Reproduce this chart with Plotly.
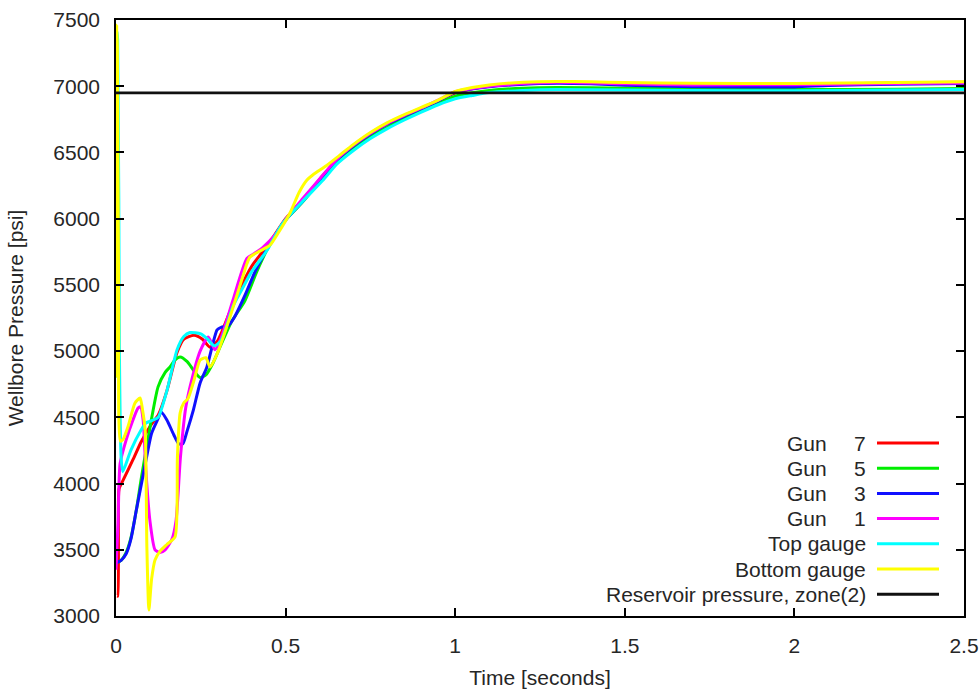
import plotly.graph_objects as go

# ---------------- data ----------------
t_gun7 = [0.003, 0.005, 0.007, 0.009, 0.02, 0.05, 0.074, 0.103, 0.125, 0.15, 0.18, 0.2, 0.23, 0.255, 0.277,
          0.3, 0.33, 0.36, 0.4, 0.45, 0.5, 0.55, 0.6, 0.65, 0.7, 0.75, 0.8, 0.85, 0.9, 0.95, 1.0, 1.05, 1.1,
          1.2, 1.3, 1.4, 1.5, 1.7, 2.0, 2.2, 2.3, 2.5]
p_gun7 = [3150, 3150, 3700, 3960, 4020, 4180, 4314, 4442, 4520, 4700, 4990, 5090, 5120, 5090, 5030,
          5080, 5260, 5440, 5640, 5810, 6000, 6140, 6295, 6440, 6550, 6640, 6715, 6775, 6830, 6890, 6950, 6980, 7000,
          7018, 7028, 7025, 7015, 7005, 7010, 7020, 7026, 7030]

t_gun5 = [0.0, 0.015, 0.03, 0.044, 0.06, 0.074, 0.1, 0.124, 0.145, 0.159, 0.175, 0.189, 0.21, 0.23, 0.248,
          0.265, 0.286, 0.31, 0.34, 0.38, 0.415, 0.45, 0.5, 0.55, 0.6, 0.65, 0.7, 0.75, 0.8, 0.85, 0.9, 0.95,
          1.0, 1.05, 1.1, 1.2, 1.3, 1.5, 1.7, 2.0, 2.3, 2.5]
p_gun5 = [3400, 3420, 3480, 3590, 3800, 4030, 4420, 4730, 4840, 4880, 4935, 4956, 4920, 4850, 4800,
          4820, 4910, 5050, 5220, 5380, 5600, 5790, 5990, 6125, 6280, 6430, 6530, 6620, 6690, 6755, 6820, 6875,
          6925, 6950, 6968, 6985, 6990, 6985, 6980, 6975, 6978, 6982]

t_gun3 = [0.0, 0.015, 0.03, 0.044, 0.06, 0.085, 0.105, 0.124, 0.133, 0.15, 0.17, 0.185, 0.197, 0.21, 0.228,
          0.248, 0.268, 0.298, 0.31, 0.33, 0.35, 0.38, 0.41, 0.445, 0.5, 0.55, 0.6, 0.65, 0.7, 0.75, 0.8, 0.85,
          0.9, 0.95, 1.0, 1.1, 1.2, 1.3, 1.4, 1.5, 1.7, 2.0, 2.1, 2.3, 2.5]
p_gun3 = [3400, 3420, 3470, 3580, 3800, 4130, 4380, 4490, 4540, 4480, 4370, 4300, 4300, 4400, 4555,
          4760, 4880, 5160, 5180, 5190, 5260, 5420, 5600, 5770, 5990, 6130, 6290, 6440, 6550, 6640, 6715, 6775,
          6830, 6890, 6955, 6995, 7015, 7022, 7018, 7008, 6996, 6995, 7005, 7015, 7020]

t_gun1 = [0.0, 0.006, 0.012, 0.03, 0.05, 0.065, 0.072, 0.08, 0.088, 0.1, 0.115, 0.13, 0.145, 0.165, 0.177,
          0.19, 0.206, 0.225, 0.248, 0.272, 0.292, 0.31, 0.345, 0.386, 0.41, 0.434, 0.47, 0.5, 0.55, 0.6, 0.65,
          0.7, 0.75, 0.8, 0.85, 0.9, 0.95, 1.0, 1.1, 1.2, 1.3, 1.5, 1.7, 2.0, 2.3, 2.5]
p_gun1 = [3350, 3700, 4150, 4330, 4480, 4570, 4580, 4480, 4100, 3720, 3500, 3480, 3500, 3580, 3720,
          4200, 4580, 4800, 5000, 5107, 5010, 5100, 5386, 5700, 5740, 5786, 5880, 5995, 6150, 6300, 6445,
          6555, 6645, 6720, 6780, 6835, 6895, 6958, 7000, 7020, 7030, 7018, 7010, 7012, 7020, 7025]

t_top = [0.0, 0.002, 0.005, 0.01, 0.015, 0.02, 0.044, 0.074, 0.088, 0.11, 0.125, 0.15, 0.18, 0.2, 0.218,
         0.25, 0.27, 0.29, 0.31, 0.33, 0.345, 0.37, 0.4, 0.445, 0.49, 0.55, 0.61, 0.65, 0.7, 0.75, 0.8, 0.85,
         0.9, 0.95, 1.0, 1.05, 1.1, 1.2, 1.3, 1.5, 1.7, 2.0, 2.3, 2.5]
p_top = [4800, 7420, 7350, 5000, 4200, 4090, 4253, 4404, 4457, 4480, 4503, 4700, 5010, 5110, 5140,
         5130, 5090, 5040, 5080, 5220, 5340, 5460, 5600, 5760, 5960, 6130, 6290, 6410, 6515, 6605, 6680, 6745,
         6805, 6860, 6905, 6930, 6952, 6968, 6975, 6972, 6968, 6965, 6972, 6976]

t_bottom = [0.0, 0.002, 0.004, 0.008, 0.013, 0.02, 0.035, 0.056, 0.071, 0.078, 0.086, 0.091, 0.097, 0.105,
            0.115, 0.13, 0.15, 0.174, 0.181, 0.189, 0.2, 0.212, 0.23, 0.248, 0.265, 0.277, 0.3, 0.336, 0.36,
            0.386, 0.395, 0.42, 0.454, 0.48, 0.513, 0.54, 0.563, 0.58, 0.62, 0.66, 0.7, 0.75, 0.8, 0.85, 0.9,
            0.95, 1.0, 1.05, 1.1, 1.2, 1.3, 1.4, 1.5, 1.7, 2.0, 2.3, 2.5]
p_bottom = [4800, 7460, 7300, 5300, 4320, 4330, 4427, 4608, 4646, 4560, 4404, 3521, 3045, 3280,
            3423, 3490, 3540, 3597, 4200, 4533, 4610, 4640, 4780, 4933, 4950, 4880, 4990, 5258, 5450,
            5660, 5710, 5750, 5800, 5900, 6043, 6200, 6292, 6330, 6400, 6480, 6560, 6650, 6725, 6785, 6840,
            6895, 6960, 6990, 7010, 7030, 7036, 7034, 7028, 7022, 7020, 7028, 7034]

t_res = [0.0, 2.5]
p_res = [6950, 6950]

series_names = ["Gun", "Gun", "Gun", "Gun", "Top gauge", "Bottom gauge", "Reservoir pressure, zone(2)"]
series_nums = ["7", "5", "3", "1", "", "", ""]
series_t = [t_gun7, t_gun5, t_gun3, t_gun1, t_top, t_bottom, t_res]
series_p = [p_gun7, p_gun5, p_gun3, p_gun1, p_top, p_bottom, p_res]
series_colors = ["#ff0000", "#00ee00", "#1010ff", "#ff00ff", "#00ffff", "#ffff00", "#111111"]

x_ticks = [0, 0.5, 1, 1.5, 2, 2.5]
x_ticklabels = ["0", "0.5", "1", "1.5", "2", "2.5"]
y_ticks = [3000, 3500, 4000, 4500, 5000, 5500, 6000, 6500, 7000, 7500]

FONT = "Liberation Sans, Arial, sans-serif"
TXT = "#262626"
FS = 21

fig = go.Figure()
for i, (tt, pp, col) in enumerate(zip(series_t, series_p, series_colors)):
    name = (series_names[i] + " " + series_nums[i]).strip()
    fig.add_trace(go.Scatter(
        x=tt, y=pp, mode="lines", name=name,
        line=dict(color=col, width=3 if i < 6 else 2.6, shape="spline", smoothing=0.6),
        showlegend=False, hoverinfo="skip"))

# custom gnuplot-style legend (text left, sample right)
L, R, T, B, W, H = 116, 16, 20, 74, 980, 690
pw, ph = W - L - R, H - T - B
row_y0 = 443
row_dy = 25.2
annotations = []
shapes = []
for i in range(len(series_names)):
    ypx = row_y0 + i * row_dy
    yp = (T + ph - ypx) / ph
    if series_nums[i]:
        annotations.append(dict(x=(829 - L) / pw, y=yp, xref="paper", yref="paper", text=series_names[i],
                                showarrow=False, xanchor="right", yanchor="middle",
                                font=dict(family=FONT, size=FS, color=TXT)))
        annotations.append(dict(x=(868 - L) / pw, y=yp, xref="paper", yref="paper", text=series_nums[i],
                                showarrow=False, xanchor="right", yanchor="middle",
                                font=dict(family=FONT, size=FS, color=TXT)))
    else:
        annotations.append(dict(x=(868 - L) / pw, y=yp, xref="paper", yref="paper", text=series_names[i],
                                showarrow=False, xanchor="right", yanchor="middle",
                                font=dict(family=FONT, size=FS, color=TXT)))
    shapes.append(dict(type="line", xref="paper", yref="paper", x0=(877 - L) / pw, x1=(939 - L) / pw,
                       y0=yp, y1=yp, line=dict(color=series_colors[i], width=3)))

axis_common = dict(showgrid=False, zeroline=False, showline=True, linecolor="#000000", linewidth=1.5,
                   mirror="ticks", ticks="inside", ticklen=8, tickwidth=1.5, tickcolor="#000000",
                   tickfont=dict(family=FONT, size=FS, color=TXT), ticklabelstandoff=10)

fig.update_layout(
    width=W, height=H,
    margin=dict(l=L, r=R, t=T, b=B, autoexpand=False),
    paper_bgcolor="white", plot_bgcolor="white",
    xaxis=dict(range=[0, 2.5], tickvals=x_ticks, ticktext=x_ticklabels,
               title=dict(text="Time [seconds]", font=dict(family=FONT, size=FS, color=TXT), standoff=14),
               **axis_common),
    yaxis=dict(range=[3000, 7500], tickvals=y_ticks,
               title=dict(text="Wellbore Pressure [psi]", font=dict(family=FONT, size=FS, color=TXT), standoff=24),
               **axis_common),
    annotations=annotations,
    shapes=shapes,
)

fig.write_html("out.html")
